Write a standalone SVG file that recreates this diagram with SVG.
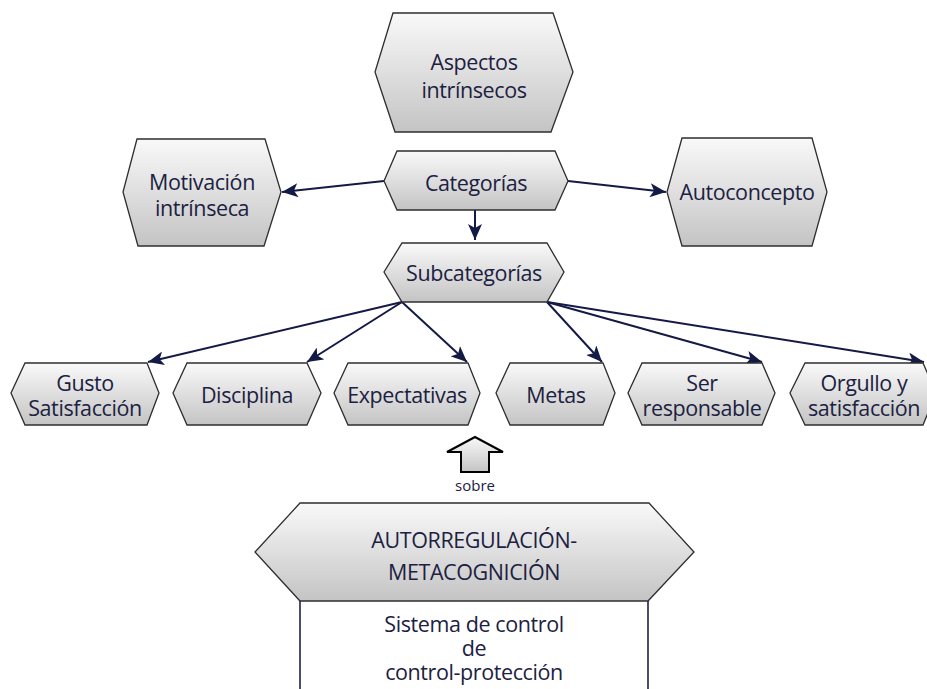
<svg xmlns="http://www.w3.org/2000/svg" width="927" height="689" viewBox="0 0 927 689">
<defs>
<linearGradient id="g" x1="0" y1="0" x2="0" y2="1">
<stop offset="0" stop-color="#f9f9f9"/>
<stop offset="1" stop-color="#c4c4c4"/>
</linearGradient>
<marker id="ah" markerUnits="userSpaceOnUse" markerWidth="18" markerHeight="14" refX="16" refY="7" orient="auto">
<path d="M0,0 L16,7 L0,14 L4,7 Z" fill="#141a46"/>
</marker>
</defs>
<style>
.hex{fill:url(#g);stroke:#2e2e2e;stroke-width:1.3}
.t{font-family:"Open Sans","Noto Sans",sans-serif;font-size:21.5px;letter-spacing:-0.4px;fill:#1c2142;text-anchor:middle}
.c{stroke:#141a46;stroke-width:2;fill:none;marker-end:url(#ah)}
</style>
<rect width="927" height="689" fill="#ffffff"/>
<g id="connectors">
<line class="c" x1="384" y1="181" x2="282" y2="192"/>
<line class="c" x1="568" y1="181" x2="666" y2="192"/>
<line class="c" x1="475" y1="210" x2="475" y2="240"/>
<line class="c" x1="402" y1="302" x2="148" y2="362"/>
<line class="c" x1="402" y1="302" x2="307" y2="362"/>
<line class="c" x1="402" y1="302" x2="467" y2="362"/>
<line class="c" x1="547" y1="302" x2="602" y2="362"/>
<line class="c" x1="547" y1="302" x2="762" y2="362"/>
<line class="c" x1="547" y1="302" x2="924" y2="362"/>
</g>
<g id="aspectos">
<polygon class="hex" points="393,13 553,13 573,72 551,132 395,132 375,72"/>
<text class="t" x="474" y="70">Aspectos</text>
<text class="t" x="474" y="98">intrínsecos</text>
</g>
<g id="motivacion">
<polygon class="hex" points="137,139 265,139 281,192 264,246 138,246 123,192"/>
<text class="t" x="202" y="190">Motivación</text>
<text class="t" x="202" y="216">intrínseca</text>
</g>
<g id="categorias">
<polygon class="hex" points="397,151 555,151 568,181 555,210 397,210 384,181"/>
<text class="t" x="476" y="191">Categorías</text>
</g>
<g id="autoconcepto">
<polygon class="hex" points="682,138 812,138 827,192 812,246 682,246 667,192"/>
<text class="t" x="747" y="200">Autoconcepto</text>
</g>
<g id="subcategorias">
<polygon class="hex" points="402,243 547,243 564,272 547,302 402,302 384,272"/>
<text class="t" x="474" y="281">Subcategorías</text>
</g>
<g id="gusto">
<polygon class="hex" points="25,363 147,363 159,393 147,425 25,425 11,393"/>
<text class="t" x="85" y="391">Gusto</text>
<text class="t" x="85" y="416">Satisfacción</text>
</g>
<g id="disciplina">
<polygon class="hex" points="187,363 307,363 321,393 307,425 187,425 173,393"/>
<text class="t" x="247" y="403">Disciplina</text>
</g>
<g id="expectativas">
<polygon class="hex" points="348,363 468,363 480,393 468,425 348,425 334,393"/>
<text class="t" x="407" y="403">Expectativas</text>
</g>
<g id="metas">
<polygon class="hex" points="510,363 603,363 615,393 603,425 510,425 496,393"/>
<text class="t" x="556" y="403">Metas</text>
</g>
<g id="ser">
<polygon class="hex" points="642,363 762,363 775,393 762,425 642,425 628,393"/>
<text class="t" x="702" y="391">Ser</text>
<text class="t" x="702" y="416">responsable</text>
</g>
<g id="orgullo">
<polygon class="hex" points="805,363 923,363 936,393 923,425 805,425 790,393"/>
<text class="t" x="864" y="391">Orgullo y</text>
<text class="t" x="864" y="416">satisfacción</text>
</g>
<g id="sobre">
<polygon points="475,437 503,452 489,452 489,472 461,472 461,452 447,452" fill="url(#g)" stroke="#000" stroke-width="2" stroke-linejoin="miter"/>
<text class="t" x="475" y="491" style="font-size:15px;letter-spacing:0">sobre</text>
</g>
<g id="autorregulacion">
<path d="M300,601 V689 M648,601 V689" stroke="#1c2450" stroke-width="1.6" fill="none"/>
<polygon class="hex" points="300,503 649,503 694,552 648,601 300,601 255,552"/>
<text class="t" x="474" y="548">AUTORREGULACIÓN-</text>
<text class="t" x="474" y="580">METACOGNICIÓN</text>
<text class="t" x="474" y="632">Sistema de control</text>
<text class="t" x="474" y="656">de</text>
<text class="t" x="474" y="680">control-protección</text>
</g>
</svg>
